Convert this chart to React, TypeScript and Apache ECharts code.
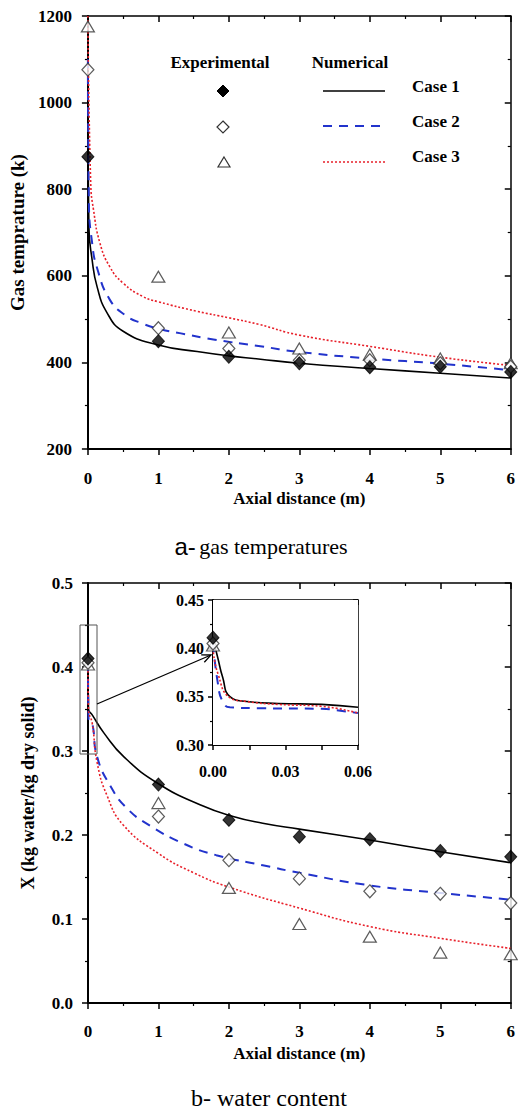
import React, { useEffect, useRef } from "react";
import * as echarts from "echarts";

// ---------- (a) gas temperatures ----------
const tempExpCase1 = [[0, 875], [1, 449], [2, 413], [3, 398], [4, 389], [5, 390], [6, 378]];
const tempExpCase2 = [[0, 1076], [1, 479], [2, 432], [3, 405], [4, 405], [5, 398], [6, 390]];
const tempExpCase3 = [[0, 1176], [1, 598], [2, 469], [3, 432], [4, 418], [5, 409], [6, 398]];

const tempNumCase1 = [[0, 1000], [0.014, 713], [0.06, 637], [0.13, 575], [0.27, 515], [0.5, 472], [1, 440], [1.55, 425], [2, 415], [2.42, 408], [3, 398], [4, 386], [5, 375], [6, 364]];
const tempNumCase2 = [[0, 1100], [0.014, 768], [0.06, 676], [0.13, 618], [0.31, 545], [0.54, 508], [0.77, 490], [1, 478], [1.32, 467], [1.78, 453], [2.42, 438], [3, 424], [4, 409], [5, 397], [6, 382]];
const tempNumCase3 = [[0, 1200], [0.04, 814], [0.08, 752], [0.17, 676], [0.31, 621], [0.5, 583], [0.77, 553], [1, 540], [1.55, 518], [2, 503], [2.42, 488], [3, 463], [4, 437], [5, 412], [6, 393]];

// ---------- (b) water content ----------
const waterExpCase1 = [[0, 0.41], [1, 0.26], [2, 0.218], [3, 0.198], [4, 0.195], [5, 0.181], [6, 0.174]];
const waterExpCase2 = [[0, 0.405], [1, 0.222], [2, 0.17], [3, 0.148], [4, 0.133], [5, 0.13], [6, 0.119]];
const waterExpCase3 = [[0, 0.403], [1, 0.238], [2, 0.137], [3, 0.094], [4, 0.079], [5, 0.06], [6, 0.058]];

const waterNumCase1 = [[0, 0.41], [0.007, 0.35], [0.06, 0.343], [0.23, 0.321], [0.51, 0.293], [1, 0.261], [1.59, 0.236], [2.06, 0.222], [2.48, 0.214], [3, 0.207], [4, 0.194], [5, 0.18], [6, 0.167]];
const waterNumCase2 = [[0, 0.405], [0.007, 0.339], [0.06, 0.333], [0.13, 0.293], [0.32, 0.258], [0.55, 0.232], [0.88, 0.211], [1.35, 0.19], [1.82, 0.176], [2.48, 0.164], [3, 0.155], [4, 0.14], [5, 0.131], [6, 0.123]];
const waterNumCase3 = [[0, 0.4], [0.007, 0.349], [0.06, 0.333], [0.13, 0.286], [0.27, 0.247], [0.5, 0.212], [1, 0.178], [1.5, 0.155], [2, 0.138], [3, 0.113], [4, 0.091], [5, 0.077], [6, 0.065]];

// inset (0 – 0.06 m)
const insetNumCase1 = [[0, 0.41], [0.002, 0.39], [0.004, 0.37], [0.007, 0.35], [0.014, 0.345], [0.027, 0.343], [0.045, 0.342], [0.06, 0.339]];
const insetNumCase2 = [[0, 0.405], [0.002, 0.364], [0.004, 0.345], [0.007, 0.339], [0.02, 0.338], [0.045, 0.3375], [0.051, 0.336], [0.06, 0.333]];
const insetNumCase3 = [[0, 0.4], [0.002, 0.374], [0.007, 0.349], [0.014, 0.345], [0.027, 0.342], [0.045, 0.34], [0.06, 0.333]];
const insetExpCase1 = [[0, 0.411]];
const insetExpCase2 = [[0, 0.405]];
const insetExpCase3 = [[0, 0.403]];

const caseNames = ["Case 1", "Case 2", "Case 3"];

const SERIF = "Liberation Serif";
const SANS = "Liberation Sans";
const BLUE = "#2233cc";
const RED = "#e8202a";

const labelStyle = { fontFamily: SERIF, fontWeight: "bold", fontSize: 17, color: "#000" };

function mainAxis(pos: string, gridIndex: number, extra: any, nameText?: string, nameGap?: number, nameSize = 17) {
  const isMirror = pos === "top" || pos === "right";
  return {
    type: "value",
    gridIndex,
    position: pos,
    name: nameText,
    nameLocation: "middle",
    nameGap,
    nameTextStyle: { fontFamily: SERIF, fontWeight: "bold", fontSize: nameSize, color: "#000" },
    axisLine: { show: true, onZero: false, lineStyle: { color: "#000", width: isMirror ? 1.5 : 2 } },
    axisTick: { show: true, inside: isMirror, length: 6, lineStyle: { color: "#000", width: 1.5 } },
    minorTick: { show: true, splitNumber: 2, length: 3, lineStyle: { color: "#000", width: 1.2 } },
    splitLine: { show: false },
    axisLabel: { show: !isMirror, ...labelStyle },
    ...extra,
  };
}

export default function App() {
  const ref = useRef<HTMLDivElement>(null);
  useEffect(() => {
    const chart = echarts.init(ref.current!, null, { renderer: "svg" });

    const lineStyles = [
      { color: "#000", width: 1.6, type: "solid" },
      { color: BLUE, width: 2, type: [9, 7] },
      { color: RED, width: 1.6, type: [2, 2] },
    ];
    const markers = [
      { symbol: "diamond", symbolSize: [12, 13], itemStyle: { color: "#000", borderColor: "#000", borderWidth: 1 } },
      { symbol: "diamond", symbolSize: [12, 13], itemStyle: { color: "#fff", borderColor: "#333", borderWidth: 1.2 } },
      { symbol: "triangle", symbolSize: [13, 11], itemStyle: { color: "#fff", borderColor: "#333", borderWidth: 1.2 } },
    ];

    const lineSeries = (data: number[][], i: number, ax: number) => ({
      type: "line",
      name: caseNames[i],
      xAxisIndex: ax,
      yAxisIndex: ax,
      data,
      showSymbol: false,
      symbol: "none",
      smooth: 0.5,
      clip: true,
      lineStyle: lineStyles[i],
      silent: true,
    });
    const scatterSeries = (data: number[][], i: number, ax: number) => ({
      type: "scatter",
      name: caseNames[i],
      xAxisIndex: ax,
      yAxisIndex: ax,
      data,
      ...markers[i],
      z: 5,
      silent: true,
    });

    const insetY = (pos: string) => ({
      type: "value",
      gridIndex: 2,
      position: pos,
      min: 0.3,
      max: 0.45,
      interval: 0.05,
      axisLine: { show: true, onZero: false, lineStyle: { color: "#000", width: pos === "left" ? 2 : 1.5 } },
      axisTick: { show: true, inside: pos !== "left", length: 5, lineStyle: { color: "#000", width: 1.5 } },
      minorTick: { show: true, splitNumber: 2, length: 3, lineStyle: { color: "#000", width: 1.2 } },
      splitLine: { show: false },
      axisLabel: {
        show: pos === "left",
        margin: 9,
        ...labelStyle,
        fontSize: 16,
        formatter: (v: number) => v.toFixed(2),
      },
    });
    const insetX = (pos: string) => ({
      type: "value",
      gridIndex: 2,
      position: pos,
      min: 0,
      max: 0.06,
      interval: 0.015,
      axisLine: { show: true, onZero: false, lineStyle: { color: "#000", width: pos === "bottom" ? 2 : 1.5 } },
      axisTick: { show: true, inside: pos !== "bottom", length: 5, lineStyle: { color: "#000", width: 1.5 } },
      minorTick: { show: false },
      splitLine: { show: false },
      axisLabel: {
        show: pos === "bottom",
        margin: 18,
        ...labelStyle,
        fontSize: 16,
        formatter: (v: number) => (Math.round(v * 1000) % 30 === 0 ? v.toFixed(2) : ""),
      },
    });

    const legendText = (text: string, x: number, y: number, align = "center") => ({
      type: "text",
      x,
      y,
      style: { text, fontFamily: SERIF, fontWeight: "bold", fontSize: 17, fill: "#000", align, verticalAlign: "middle" },
      z: 10,
    });

    const option: any = {
      animation: false,
      backgroundColor: "#fff",
      textStyle: { fontFamily: SERIF },
      grid: [
        { left: 79, top: 16, width: 436, height: 433 },
        { left: 88, top: 583, width: 426, height: 420 },
        { left: 213, top: 600, width: 145, height: 145, show: true, backgroundColor: "#fff", borderWidth: 0, z: 3 },
      ],
      xAxis: [
        mainAxis("bottom", 0, { min: 0, max: 6, interval: 1, axisLabel: { show: true, margin: 21, ...labelStyle } }, "Axial distance (m)", 41),
        mainAxis("top", 0, { min: 0, max: 6, interval: 1 }),
        mainAxis("bottom", 1, { min: 0, max: 6, interval: 1, axisLabel: { show: true, margin: 20, ...labelStyle } }, "Axial distance (m)", 42),
        mainAxis("top", 1, { min: 0, max: 6, interval: 1 }),
        insetX("bottom"),
        insetX("top"),
      ],
      yAxis: [
        mainAxis("left", 0, { min: 200, max: 1200, interval: 200, axisLabel: { show: true, margin: 16, ...labelStyle, formatter: (v: number) => String(v) } }, "Gas temprature (k)", 53, 19),
        mainAxis("right", 0, { min: 200, max: 1200, interval: 200 }),
        mainAxis("left", 1, { min: 0, max: 0.5, interval: 0.1, axisLabel: { show: true, margin: 15, ...labelStyle, formatter: (v: number) => v.toFixed(1) } }, "X (kg water/kg dry solid)", 51, 18),
        mainAxis("right", 1, { min: 0, max: 0.5, interval: 0.1 }),
        insetY("left"),
        insetY("right"),
      ],
      series: [
        lineSeries(tempNumCase1, 0, 0),
        lineSeries(tempNumCase2, 1, 0),
        lineSeries(tempNumCase3, 2, 0),
        scatterSeries(tempExpCase3, 2, 0),
        scatterSeries(tempExpCase2, 1, 0),
        scatterSeries(tempExpCase1, 0, 0),

        lineSeries(waterNumCase1, 0, 2),
        lineSeries(waterNumCase2, 1, 2),
        lineSeries(waterNumCase3, 2, 2),
        scatterSeries(waterExpCase3, 2, 2),
        scatterSeries(waterExpCase2, 1, 2),
        scatterSeries(waterExpCase1, 0, 2),

        { ...lineSeries(insetNumCase1, 0, 4), z: 4 },
        { ...lineSeries(insetNumCase2, 1, 4), z: 4 },
        { ...lineSeries(insetNumCase3, 2, 4), z: 4 },
        { ...scatterSeries(insetExpCase3, 2, 4), z: 6 },
        { ...scatterSeries(insetExpCase2, 1, 4), z: 6 },
        { ...scatterSeries(insetExpCase1, 0, 4), z: 6 },
      ],
      graphic: [
        legendText("Experimental", 220, 62),
        legendText("Numerical", 350, 62),
        { type: "polygon", shape: { points: [[223, 85], [229, 91], [223, 97], [217, 91]] }, style: { fill: "#000", stroke: "#000" }, z: 10 },
        { type: "polygon", shape: { points: [[223, 121], [229, 127], [223, 133], [217, 127]] }, style: { fill: "#fff", stroke: "#333", lineWidth: 1.2 }, z: 10 },
        { type: "polygon", shape: { points: [[224, 157], [230, 167], [218, 167]] }, style: { fill: "#fff", stroke: "#333", lineWidth: 1.2 }, z: 10 },
        { type: "line", shape: { x1: 323, y1: 91, x2: 385, y2: 91 }, style: { stroke: "#000", lineWidth: 1.6 }, z: 10 },
        { type: "line", shape: { x1: 323, y1: 126, x2: 385, y2: 126 }, style: { stroke: BLUE, lineWidth: 2, lineDash: [9, 7] }, z: 10 },
        { type: "line", shape: { x1: 323, y1: 162, x2: 385, y2: 162 }, style: { stroke: RED, lineWidth: 1.6, lineDash: [2, 2] }, z: 10 },
        legendText("Case 1", 412, 86, "left"),
        legendText("Case 2", 412, 121, "left"),
        legendText("Case 3", 412, 156, "left"),
        // zoom box and arrow
        { type: "rect", shape: { x: 80, y: 625, width: 17, height: 129 }, style: { fill: "none", stroke: "#555", lineWidth: 1 }, z: 10 },
        { type: "line", shape: { x1: 97, y1: 704, x2: 211, y2: 655 }, style: { stroke: "#000", lineWidth: 1.3 }, z: 10 },
        { type: "polyline", shape: { points: [[204.3, 662.2], [211, 655], [201.2, 654.9]] }, style: { stroke: "#000", lineWidth: 1.3, fill: "none" }, z: 10 },
        // captions
        {
          type: "text",
          x: 261,
          y: 546,
          style: {
            text: "{a|a-} {b|gas temperatures}",
            align: "center",
            verticalAlign: "middle",
            rich: {
              a: { fontFamily: SANS, fontSize: 24, fill: "#000" },
              b: { fontFamily: SERIF, fontSize: 22, fill: "#000" },
            },
          },
          z: 10,
        },
        {
          type: "text",
          x: 269,
          y: 1098,
          style: { text: "b- water content", fontFamily: SERIF, fontSize: 24, fill: "#000", align: "center", verticalAlign: "middle" },
          z: 10,
        },
      ],
    };
    chart.setOption(option);
    return () => chart.dispose();
  }, []);
  return <div ref={ref} style={{ position: "absolute", left: 0, top: 0, width: 518, height: 1111 }} />;
}
